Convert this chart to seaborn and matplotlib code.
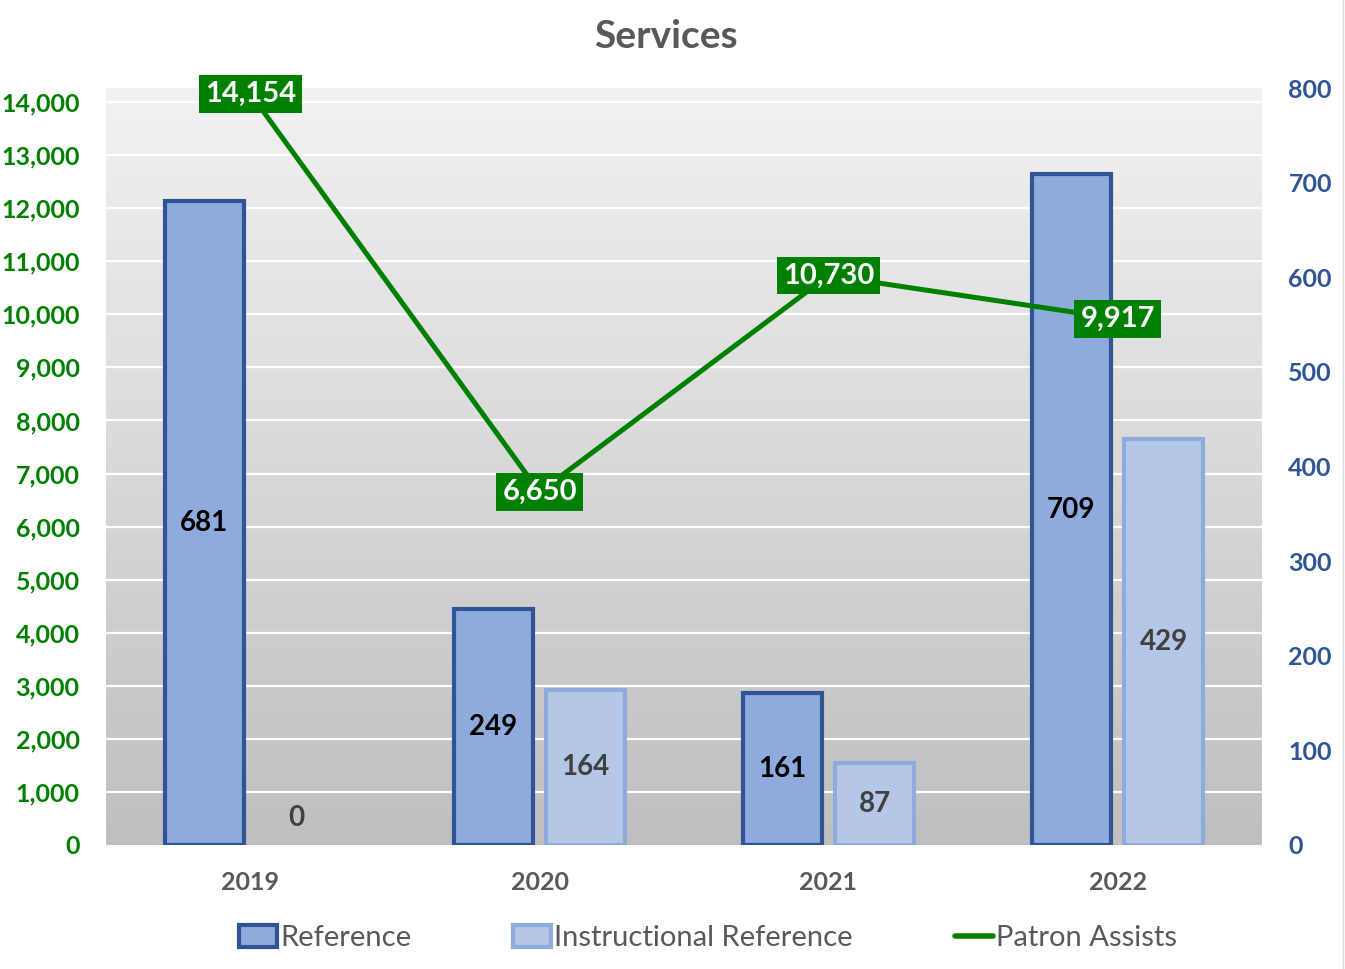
import numpy as np
import pandas as pd
import matplotlib
matplotlib.use('Agg')
import matplotlib.pyplot as plt
import seaborn as sns
from matplotlib.colors import LinearSegmentedColormap
from matplotlib.patches import Patch
from matplotlib.lines import Line2D
from matplotlib.transforms import blended_transform_factory

# ---- data ----
years = ['2019', '2020', '2021', '2022']
reference = [681, 249, 161, 709]
instructional = [0, 164, 87, 429]
patron_assists = [14154, 6650, 10730, 9917]
left_ticks = list(range(0, 14001, 1000))
right_ticks = list(range(0, 801, 100))
series_names = ['Reference', 'Instructional Reference']

GREEN = '#008000'
DARKBLUE = '#2F5597'
MIDBLUE = '#8FAADC'
LIGHTBLUE = '#B4C7E7'
GREY = '#595959'

sns.set_theme(style='white')
plt.rcParams['font.family'] = ['Lato', 'DejaVu Sans']
plt.rcParams['font.weight'] = 'bold'

fig = plt.figure(figsize=(13.45, 9.69), dpi=100)
ax = fig.add_axes([106 / 1345, 124 / 969, 1156 / 1345, 757 / 969])

# gradient background
cmap = LinearSegmentedColormap.from_list('bg', ['#BFBFBF', '#F2F2F2'])
grad = np.linspace(0, 1, 256).reshape(-1, 1)
ax.imshow(grad, extent=[0, 1, 0, 1], transform=ax.transAxes, aspect='auto',
          cmap=cmap, origin='lower', zorder=0)

df = pd.DataFrame({
    'Year': years * 2,
    'Series': [series_names[0]] * len(years) + [series_names[1]] * len(years),
    'Value': reference + instructional,
})
sns.barplot(data=df, x='Year', y='Value', hue='Series', hue_order=series_names,
            palette={series_names[0]: MIDBLUE, series_names[1]: LIGHTBLUE},
            width=0.64, gap=0.15, saturation=1, legend=False, ax=ax, zorder=3)

edge_cols = [DARKBLUE, MIDBLUE]
label_cols = ['black', '#404040']
for cont, ec, lc in zip(ax.containers, edge_cols, label_cols):
    for p in cont.patches:
        h = p.get_height()
        x = p.get_x() + p.get_width() / 2
        if h == 0:
            p.set_visible(False)
            ax.annotate('0', (x, 0), xytext=(0, 19.5), textcoords='offset points',
                        ha='center', va='center', color=lc, fontsize=20,
                        fontweight='bold', zorder=5)
        else:
            p.set_edgecolor(ec)
            p.set_linewidth(3)
            ax.text(x, h / 2, f'{int(h):,}', ha='center', va='center', color=lc,
                    fontsize=20, fontweight='bold', zorder=5)

# line on twin axis
ax2 = ax.twinx()
sns.lineplot(x=list(range(len(years))), y=patron_assists, ax=ax2, color=GREEN,
             linewidth=3.6, legend=False, zorder=4)

ax.set_xlim(-0.5, len(years) - 0.5)
ax.set_ylim(0, 800)
ax.set_yticks(right_ticks)
ax.yaxis.tick_right()
ax.tick_params(axis='y', length=0, pad=19, labelcolor=DARKBLUE, labelsize=18,
               right=True, left=False, labelright=True, labelleft=False)
ax.tick_params(axis='x', length=0, pad=19, labelcolor=GREY, labelsize=18)
ax.set_xlabel('')
ax.set_ylabel('')
for s in ax.spines.values():
    s.set_visible(False)

ax2.set_ylim(0, 14264)
ax2.set_yticks(left_ticks)
ax2.yaxis.tick_left()
ax2.yaxis.set_major_formatter(matplotlib.ticker.FuncFormatter(lambda v, p: f'{int(v):,}'))
ax2.tick_params(axis='y', length=0, pad=19, labelcolor=GREEN, labelsize=18,
                left=True, right=False, labelleft=True, labelright=False)
ax2.set_ylabel('')
for s in ax2.spines.values():
    s.set_visible(False)

# gridlines following the left axis, drawn beneath bars
tr = blended_transform_factory(ax.transAxes, ax2.transData)
for t in left_ticks[1:]:
    ax.plot([0, 1], [t, t], transform=tr, color='white', lw=1.6, zorder=1)

for i, v in enumerate(patron_assists):
    ax2.text(i, v, f'{v:,}', ha='center', va='center', color='white', fontsize=21,
             fontweight='bold', zorder=6,
             bbox=dict(boxstyle='square,pad=0.2', fc=GREEN, ec='none'))

fig.text(666 / 1345, 1 - 37 / 969, 'Services', ha='center', va='center',
         fontsize=28, fontweight='bold', color=GREY)

handles = [Patch(fc=MIDBLUE, ec=DARKBLUE, lw=3),
           Patch(fc=LIGHTBLUE, ec=MIDBLUE, lw=3),
           Line2D([], [], color=GREEN, lw=4)]
labels = ['Reference', 'Instructional Reference', 'Patron Assists']
leg = fig.legend(handles, labels, loc='center', bbox_to_anchor=(708 / 1345, 1 - 938 / 969),
                 ncol=3, frameon=False, prop={'size': 21, 'weight': 'normal'},
                 columnspacing=3.5, handlelength=1.3, handleheight=0.75,
                 handletextpad=0.1)
for t in leg.get_texts():
    t.set_color(GREY)

fig.add_artist(Line2D([1343 / 1345] * 2, [0, 1], color='#D9D9D9', lw=1))

fig.savefig('out.png', dpi=100)
